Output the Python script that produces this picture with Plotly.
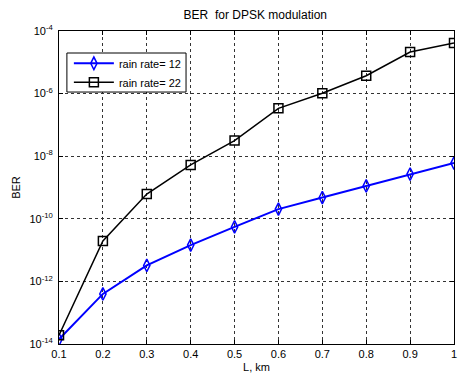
import plotly.graph_objects as go

L_km = [0.1, 0.2, 0.3, 0.4, 0.5, 0.6, 0.7, 0.8, 0.9, 1.0]
log_ber_rain12 = [-13.85, -12.4, -11.49, -10.84, -10.26, -9.69, -9.32, -8.95, -8.57, -8.22]
log_ber_rain22 = [-13.72, -10.71, -9.21, -8.28, -7.5, -6.47, -5.99, -5.43, -4.67, -4.38]
ber_rain12 = [10 ** v for v in log_ber_rain12]
ber_rain22 = [10 ** v for v in log_ber_rain22]

x_ticks = [0.1, 0.2, 0.3, 0.4, 0.5, 0.6, 0.7, 0.8, 0.9, 1.0]
x_ticktext = ["0.1", "0.2", "0.3", "0.4", "0.5", "0.6", "0.7", "0.8", "0.9", "1"]
y_exps = [-4, -6, -8, -10, -12, -14]
y_ticks = [10 ** e for e in y_exps]
y_ticktext = ["10<sup>%d</sup>" % e for e in y_exps]

font = dict(family="Liberation Sans, Arial, sans-serif", size=11, color="black")

fig = go.Figure()
fig.add_trace(go.Scatter(
    x=L_km, y=ber_rain12, mode="lines+markers", name="rain rate= 12",
    line=dict(color="#0000FF", width=2),
    marker=dict(symbol="diamond-tall-open", size=9, color="#0000FF", line=dict(width=1.5)),
))
fig.add_trace(go.Scatter(
    x=L_km, y=ber_rain22, mode="lines+markers", name="rain rate= 22",
    line=dict(color="black", width=1.5),
    marker=dict(symbol="square-open", size=9, color="black", line=dict(width=1.5)),
))

axis_common = dict(
    showline=True, linecolor="black", linewidth=1, mirror="ticks",
    ticks="inside", ticklen=4, tickcolor="black",
    showgrid=True, gridcolor="#333333", griddash="dot", gridwidth=1,
    zeroline=False, tickfont=font, ticklabeloverflow="allow",
)

# legend frame (white box with black border) drawn as a shape in plot-area fractions
fig.add_shape(type="rect", xref="paper", yref="paper",
              x0=0.020, x1=0.3216, y0=0.805, y1=0.9297,
              line=dict(color="black", width=1), fillcolor="white", layer="above")

fig.update_layout(
    width=460, height=378,
    margin=dict(l=59, r=3, t=31, b=34),
    paper_bgcolor="white", plot_bgcolor="white",
    font=font,
    title=dict(text="BER  for DPSK modulation", x=0.555, xanchor="center", y=0.962, yanchor="middle",
               font=dict(family="Liberation Sans, Arial, sans-serif", size=12, color="black")),
    xaxis=dict(range=[0.1, 1.0], tickvals=x_ticks, ticktext=x_ticktext,
               title=dict(text="L, km", standoff=4, font=font), **axis_common),
    yaxis=dict(type="log", range=[-14, -4], tickvals=y_ticks, ticktext=y_ticktext,
               ticklabelstandoff=3,
               title=dict(text="BER", standoff=6, font=font), **axis_common),
    legend=dict(x=0.025, y=0.943, xanchor="left", yanchor="top",
                bgcolor="rgba(0,0,0,0)", borderwidth=0,
                font=font, tracegroupgap=0, itemwidth=40),
    showlegend=True,
)

fig.write_html("out.html")
